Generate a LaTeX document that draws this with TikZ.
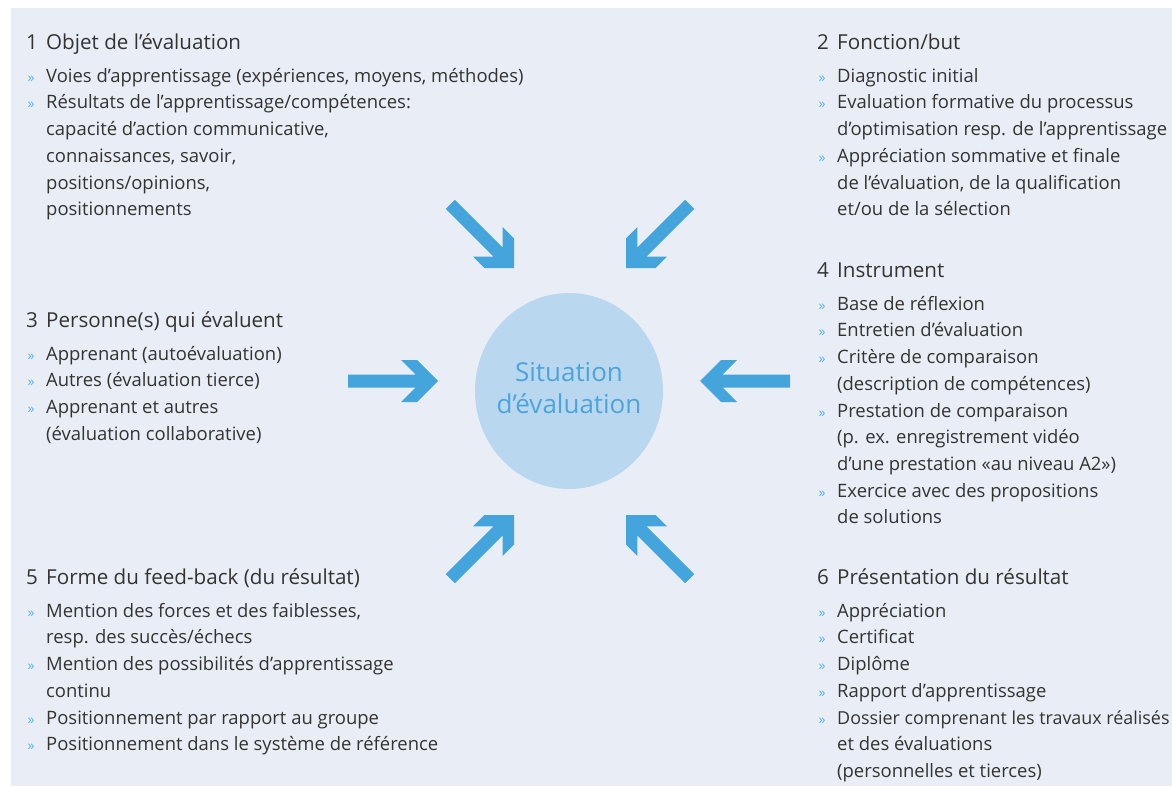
\documentclass[tikz,border=0pt]{standalone}
\usepackage{fontspec}
\setmainfont{Open Sans}
\usetikzlibrary{shapes.geometric}

\definecolor{panelbg}{HTML}{E9EEF6}
\definecolor{circlefill}{HTML}{B9D8EF}
\definecolor{arrowblue}{HTML}{43A5DC}
\definecolor{circletext}{HTML}{4DA4DB}
\definecolor{bulletblue}{HTML}{54B4E6}
\definecolor{bodytext}{HTML}{333333}

% heading line: number in a fixed-width box, then the title
\newcommand\hd[2]{{\fontsize{20.6}{26.7}\selectfont\rule{0pt}{16pt}\makebox[20pt][l]{#1}#2}}
% bullet marker and continuation indent
\newcommand\bu{\makebox[20pt][l]{\hspace{1.5pt}\textcolor{bulletblue}{\fontsize{14}{26.7}\selectfont »}}}
\newcommand\cn{\hspace*{20pt}}

\begin{document}
\begin{tikzpicture}[x=1pt,y=-1pt,
  block/.style={anchor=north west, inner sep=0pt, align=left, text=bodytext,
    font=\fontsize{18.45}{26.7}\selectfont},
  fatarrow/.pic={\fill[arrowblue] (0,0) -- (-21,21) -- (-37,21) -- (-22.5,6.5)
    -- (-90,6.5) -- (-90,-6.5) -- (-22.5,-6.5) -- (-37,-21) -- (-21,-21) -- cycle;}]

\useasboundingbox (0,0) rectangle (1172,787);
\fill[white] (0,0) rectangle (1172,787);
\fill[panelbg] (11,8) rectangle (1172,786);

% central circle and its caption
\node[ellipse, fill=circlefill, minimum width=188pt, minimum height=196pt, inner sep=0pt]
  (sit) at (569,391) {};
\node[align=center, inner sep=0pt, text=circletext, font=\fontsize{26}{32}\selectfont]
  (sitlabel) at ([yshift=3pt]sit.center) {Situation\\d’évaluation};

% six arrows pointing at the circle (rotation is in canvas orientation)
\coordinate (tTL) at (514,268);
\coordinate (tTR) at (626,268);
\coordinate (tL)  at (438,381);
\coordinate (tR)  at (700,381);
\coordinate (tBL) at (514,515);
\coordinate (tBR) at (626,515);
\pic[rotate=-45]  at (tTL) {fatarrow};
\pic[rotate=-135] at (tTR) {fatarrow};
\pic[rotate=0]    at (tL)  {fatarrow};
\pic[rotate=180]  at (tR)  {fatarrow};
\pic[rotate=45]   at (tBL) {fatarrow};
\pic[rotate=135]  at (tBR) {fatarrow};

% text blocks
\node[block] (b1) at (26,33) {%
  \hd{1}{Objet de l’évaluation}\\[6.3pt]
  \bu Voies d’apprentissage (expériences, moyens, méthodes)\\
  \bu Résultats de l’apprentissage/compétences:\\
  \cn capacité d’action communicative,\\
  \cn connaissances, savoir,\\
  \cn positions/opinions,\\
  \cn positionnements};

\node[block] (b2) at (817,33) {%
  \hd{2}{Fonction/but}\\[6.3pt]
  \bu Diagnostic initial\\
  \bu Evaluation formative du processus\\
  \cn d’optimisation resp. de l’apprentissage\\
  \bu Appréciation sommative et finale\\
  \cn de l’évaluation, de la qualification\\
  \cn et/ou de la sélection};

\node[block] (b3) at (26,311) {%
  \hd{3}{Personne(s) qui évaluent}\\[6.3pt]
  \bu Apprenant (autoévaluation)\\
  \bu Autres (évaluation tierce)\\
  \bu Apprenant et autres\\
  \cn (évaluation collaborative)};

\node[block] (b4) at (817,261) {%
  \hd{4}{Instrument}\\[6.3pt]
  \bu Base de réflexion\\
  \bu Entretien d’évaluation\\
  \bu Critère de comparaison\\
  \cn (description de compétences)\\
  \bu Prestation de comparaison\\
  \cn (p. ex. enregistrement vidéo\\
  \cn d’une prestation «au niveau A2»)\\
  \bu Exercice avec des propositions\\
  \cn de solutions};

\node[block] (b5) at (26,568) {%
  \hd{5}{Forme du feed-back (du résultat)}\\[6.3pt]
  \bu Mention des forces et des faiblesses,\\
  \cn resp. des succès/échecs\\
  \bu Mention des possibilités d’apprentissage\\
  \cn continu\\
  \bu Positionnement par rapport au groupe\\
  \bu Positionnement dans le système de référence};

% the long line is set a touch tighter so that it ends inside the panel
\node[block] (b6) at (817,568) {%
  \hd{6}{Présentation du résultat}\\[6.3pt]
  \bu Appréciation\\
  \bu Certificat\\
  \bu Diplôme\\
  \bu Rapport d’apprentissage\\
  \bu {\fontsize{17.9}{26.7}\selectfont Dossier comprenant les travaux réalisés}\\
  \cn et des évaluations\\
  \cn (personnelles et tierces)};
\end{tikzpicture}
\end{document}
